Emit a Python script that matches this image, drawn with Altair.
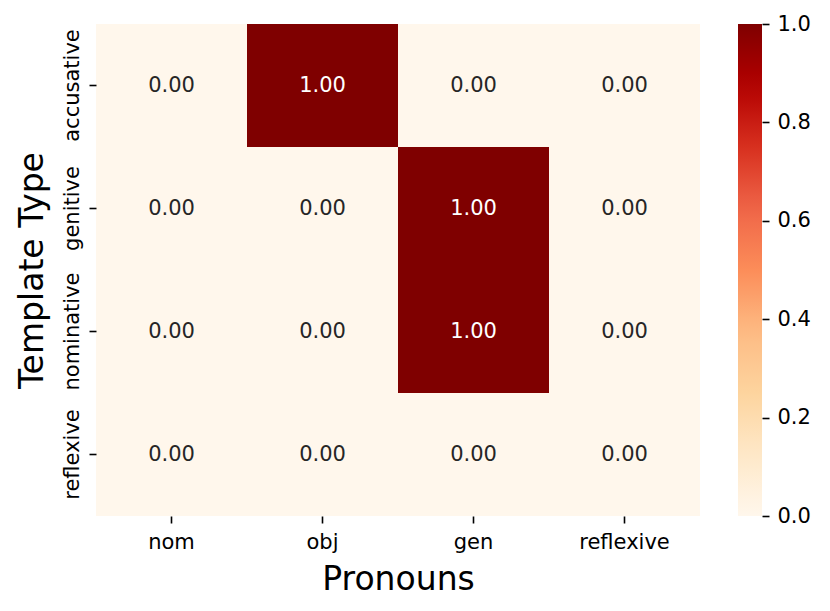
import altair as alt
import pandas as pd

pronouns = ["nom", "obj", "gen", "reflexive"]
templates = ["accusative", "genitive", "nominative", "reflexive"]
values = [
    [0.0, 1.0, 0.0, 0.0],   # accusative
    [0.0, 0.0, 1.0, 0.0],   # genitive
    [0.0, 0.0, 1.0, 0.0],   # nominative
    [0.0, 0.0, 0.0, 0.0],   # reflexive
]
colorbar_ticks = [0.0, 0.2, 0.4, 0.6, 0.8, 1.0]

# ColorBrewer OrRd (9 classes), as in matplotlib's "OrRd"
orrd = ["#fff7ec", "#fee8c8", "#fdd49e", "#fdbb84", "#fc8d59",
        "#ef6548", "#d7301f", "#b30000", "#7f0000"]
orrd_stops = [0.0, 0.125, 0.25, 0.375, 0.5, 0.625, 0.75, 0.875, 1.0]

rows = []
for i, t in enumerate(templates):
    for j, p in enumerate(pronouns):
        rows.append({"Template": t, "Pronoun": p, "value": values[i][j]})
df = pd.DataFrame(rows)
cb = pd.DataFrame({"v": colorbar_ticks})

FONT = "DejaVu Sans"
W, H = 604, 492

common_axis = dict(
    labelFontSize=21, titleFontSize=33, tickSize=7, tickWidth=1.6,
    domain=False, labelColor="black", tickColor="black", titleColor="black",
    titleFontWeight="normal", labelFont=FONT, titleFont=FONT, labelOverlap=False,
    grid=False,
)

x_enc = alt.X(
    "Pronoun:N", sort=pronouns,
    scale=alt.Scale(paddingInner=0, paddingOuter=0),
    axis=alt.Axis(title="Pronouns", labelAngle=0, labelPadding=8, titlePadding=11, **common_axis),
)
y_enc = alt.Y(
    "Template:N", sort=templates,
    scale=alt.Scale(paddingInner=0, paddingOuter=0),
    axis=alt.Axis(title="Template Type", labelAngle=270, labelAlign="center",
                  labelBaseline="bottom", labelPadding=7, titlePadding=12, **common_axis),
)

color_scale = alt.Scale(domain=orrd_stops, range=orrd, interpolate="rgb")

heat = alt.Chart(df).mark_rect().encode(
    x=x_enc,
    y=y_enc,
    color=alt.Color(
        "value:Q",
        scale=color_scale,
        legend=alt.Legend(
            type="gradient", title=None, orient="none", legendX=642, legendY=0,
            direction="vertical", gradientLength=H, gradientThickness=24,
            gradientStrokeWidth=0, labelOpacity=0,
        ),
    ),
)

text = alt.Chart(df).mark_text(font=FONT, fontSize=21).encode(
    x=alt.X("Pronoun:N", sort=pronouns),
    y=alt.Y("Template:N", sort=templates),
    text=alt.Text("value:Q", format=".2f"),
    color=alt.condition("datum.value > 0.5", alt.value("white"), alt.value("#262626")),
)

cbar = alt.Chart(cb).mark_point(opacity=0).encode(
    y=alt.Y(
        "v:Q",
        scale=alt.Scale(domain=[0, 1], nice=False, zero=False),
        axis=alt.Axis(orient="right", offset=62, values=colorbar_ticks, format=".1f",
                      title=None, labelPadding=8, **common_axis),
    ),
)

chart = (
    alt.layer(alt.layer(heat, text), cbar)
    .resolve_scale(y="independent")
    .properties(
        width=W, height=H,
        padding={"left": 88, "top": 16, "right": 122, "bottom": 87},
        autosize=alt.AutoSizeParams(type="none"),
    )
    .configure_view(stroke=None)
)

chart.save("out.html", embed_options={"renderer": "svg", "actions": False})
